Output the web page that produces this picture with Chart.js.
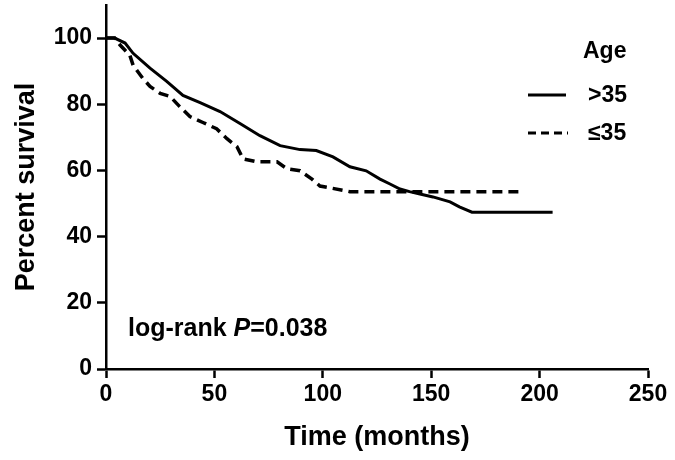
<!DOCTYPE html>
<html>
<head>
<meta charset="utf-8">
<script src="https://cdn.jsdelivr.net/npm/chart.js@4.4.0/dist/chart.umd.min.js"></script>
<style>
  html, body { margin: 0; padding: 0; background: #fff; }
  #wrap { width: 675px; height: 460px; position: relative; }
</style>
</head>
<body>
<div id="wrap"><canvas id="survivalChart"></canvas></div>
<script>
// Kaplan-Meier curves (time in months, percent surviving)
const timeOver35 = [0, 4, 8.8, 12.5, 20.3, 28, 35.5, 43.4, 52.6, 61.8, 71, 80.3, 89.5, 97, 104.7, 112.5, 120, 126.4, 131, 135.6, 140, 144.8, 150.8, 158.7, 163, 168.8, 206];
const survOver35 = [100, 100, 98.5, 95.4, 90.9, 86.9, 82.7, 80.5, 77.8, 74.2, 70.5, 67.5, 66.3, 66, 64.1, 61.1, 59.9, 57.4, 55.9, 54.4, 53.6, 52.9, 52, 50.5, 49, 47.4, 47.4];

const timeUpTo35 = [0, 4, 6.5, 11, 12.5, 17, 20.3, 25, 29.5, 34, 38.7, 44.7, 51, 55.8, 60.4, 63.2, 69.6, 78.9, 83.5, 89.5, 95, 98.7, 112.5, 192];
const survUpTo35 = [100, 100, 97.9, 94.8, 91.8, 87.8, 85.4, 83.3, 82.4, 79.3, 76.3, 74.5, 72.6, 69.6, 67.2, 63.5, 62.6, 62.6, 60.5, 59.9, 57.4, 55.3, 53.6, 53.6];

const seriesLabels = [">35", "\u226435"];
const xTicks = [0, 50, 100, 150, 200, 250];
const yTicks = [0, 20, 40, 60, 80, 100];

const FONT = "'Liberation Sans', Arial, sans-serif";

const toPoints = (ts, ss) => ts.map((t, i) => ({ x: t, y: ss[i] }));

// legend + log-rank note, drawn on top of the plot
const notesPlugin = {
    id: "notes",
    afterDraw(chart) {
        const ctx = chart.ctx;
        ctx.save();
        ctx.fillStyle = "#000";
        ctx.strokeStyle = "#000";
        ctx.textBaseline = "middle";
        ctx.font = "bold 23px " + FONT;
        ctx.fillText("Age", 583, 52);

        // solid sample
        ctx.lineWidth = 3;
        ctx.beginPath();
        ctx.moveTo(528, 95);
        ctx.lineTo(566, 95);
        ctx.stroke();
        ctx.fillText(seriesLabels[0], 588, 96);

        // dashed sample
        ctx.setLineDash([8, 5]);
        ctx.beginPath();
        ctx.moveTo(528, 133);
        ctx.lineTo(568, 133);
        ctx.stroke();
        ctx.setLineDash([]);
        ctx.fillText(seriesLabels[1], 588, 134);

        // log-rank P
        let x = 128;
        const y = 329;
        ctx.font = "bold 25px " + FONT;
        ctx.fillText("log-rank ", x, y);
        x += ctx.measureText("log-rank ").width;
        ctx.font = "italic bold 25px " + FONT;
        ctx.fillText("P", x, y);
        x += ctx.measureText("P").width;
        ctx.font = "bold 25px " + FONT;
        ctx.fillText("=0.038", x, y);
        ctx.restore();
    }
};

new Chart(document.getElementById("survivalChart"), {
    type: "line",
    data: {
        datasets: [
            {
                label: seriesLabels[0],
                data: toPoints(timeOver35, survOver35),
                borderColor: "#000",
                borderWidth: 3,
                pointRadius: 0,
                tension: 0,
                fill: false
            },
            {
                label: seriesLabels[1],
                data: toPoints(timeUpTo35, survUpTo35),
                borderColor: "#000",
                borderWidth: 3.5,
                borderDash: [10, 6],
                pointRadius: 0,
                tension: 0,
                fill: false
            }
        ]
    },
    options: {
        responsive: true,
        maintainAspectRatio: false,
        animation: false,
        layout: { padding: { top: 5, right: 27, left: 0, bottom: 0 } },
        plugins: {
            legend: { display: false },
            tooltip: { enabled: false }
        },
        scales: {
            x: {
                type: "linear",
                min: 0,
                max: 250,
                afterBuildTicks: (scale) => { scale.ticks = xTicks.map(v => ({ value: v })); },
                afterFit: (scale) => {
                    scale.height = 91;
                    scale.paddingLeft = 0;
                    scale.paddingRight = 0;
                },
                grid: {
                    drawOnChartArea: false,
                    drawTicks: true,
                    tickLength: 9,
                    tickWidth: 2.5,
                    tickColor: "#000"
                },
                border: { color: "#000", width: 2.5 },
                ticks: {
                    color: "#000",
                    padding: 3,
                    maxRotation: 0,
                    font: { family: FONT, size: 23, weight: "bold" }
                },
                title: {
                    display: true,
                    text: "Time (months)",
                    color: "#000",
                    padding: { top: 0, bottom: 6 },
                    font: { family: FONT, size: 27, weight: "bold" }
                }
            },
            y: {
                min: 0,
                max: 110,
                afterBuildTicks: (scale) => { scale.ticks = yTicks.map(v => ({ value: v })); },
                afterFit: (scale) => {
                    scale.width = 106;
                    scale.paddingTop = 0;
                    scale.paddingBottom = 0;
                },
                grid: {
                    drawOnChartArea: false,
                    drawTicks: true,
                    tickLength: 9,
                    tickWidth: 2.5,
                    tickColor: "#000"
                },
                border: { color: "#000", width: 2.5 },
                ticks: {
                    color: "#000",
                    padding: 5,
                    font: { family: FONT, size: 23, weight: "bold" }
                },
                title: {
                    display: true,
                    text: "Percent survival",
                    color: "#000",
                    padding: { top: 10, bottom: 0 },
                    font: { family: FONT, size: 27, weight: "bold" }
                }
            }
        }
    },
    plugins: [notesPlugin]
});
</script>
</body>
</html>
